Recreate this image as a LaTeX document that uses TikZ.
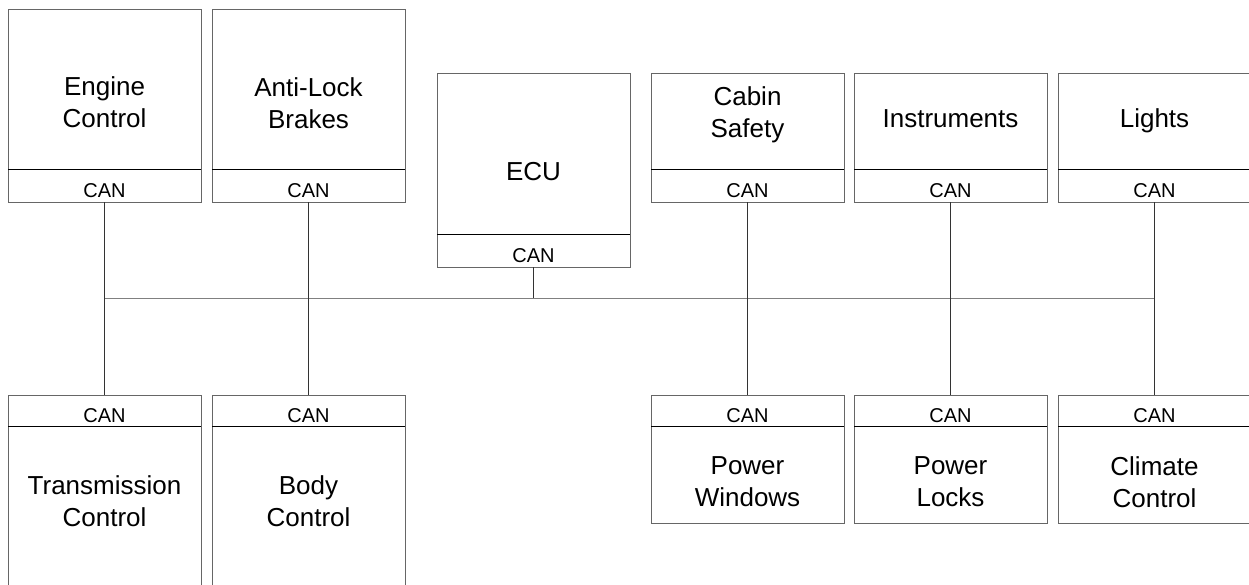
\documentclass[tikz,border=0pt]{standalone}
\usepackage{fontspec}
\setmainfont{Liberation Sans}
\usetikzlibrary{positioning}
\tikzset{
  modbox/.style={draw=black!60, line width=0.9pt, minimum width=193pt, inner sep=0pt, outer sep=0pt},
  canbox/.style={modbox, font=\fontsize{20}{24}\selectfont, text height=23.5pt, text depth=0pt},
  modlabel/.style={align=center, font=\fontsize{26}{32}\selectfont},
  divider/.style={line width=0.9pt, black},
  bus/.style={line width=1pt, black!50},
  drop/.style={line width=0.9pt, black!80},
}
\begin{document}
\begin{tikzpicture}[x=1pt, y=-1pt]
  \useasboundingbox (0,0) rectangle (1249,584);
  % modules above the bus
  \foreach \n/\x/\y/\hgt/\ty/\txt in {eng/8/9/160/102/{Engine\\Control}, abs/212/9/160/103/{Anti-Lock\\Brakes}, ecu/437/73/161/172/ECU, cab/651/73/96/115/{Cabin\\Safety}, ins/854/73/96/119/Instruments, lig/1058/73/96/121/Lights} {
    \node[modbox, minimum height=\hgt pt, anchor=north west] (\n) at (\x,\y) {};
    \node[canbox, minimum height=33pt, below=0pt of \n] (\n-can) {CAN};
    \draw[divider] (\n-can.north west) -- (\n-can.north east);
    \node[modlabel] (\n-txt) at (\x+96.5,\ty) {\txt};
  }
  % modules below the bus
  \foreach \n/\x/\hgt/\ty/\txt in {trn/8/200/501/{Transmission\\Control}, bod/212/200/501/{Body\\Control}, pwn/651/97/482/{Power\\Windows}, plk/854/97/482/{Power\\Locks}, clc/1058/97/482/{Climate\\Control}} {
    \node[canbox, minimum height=31pt, anchor=north west] (\n-can) at (\x,395) {CAN};
    \node[modbox, minimum height=\hgt pt, below=0pt of \n-can] (\n) {};
    \draw[divider] (\n.north west) -- (\n.north east);
    \node[modlabel] (\n-txt) at (\x+96.5,\ty) {\txt};
  }
  % the bus
  \coordinate (busY) at (0,298);
  \draw[bus] (eng-can.south |- busY) -- (lig-can.south |- busY);
  \draw[drop] (ecu-can.south) -- (ecu-can.south |- busY);
  \foreach \n/\m in {eng/trn, abs/bod, cab/pwn, ins/plk, lig/clc}
    \draw[drop] (\n-can.south) -- (\m-can.north);
\end{tikzpicture}
\end{document}
